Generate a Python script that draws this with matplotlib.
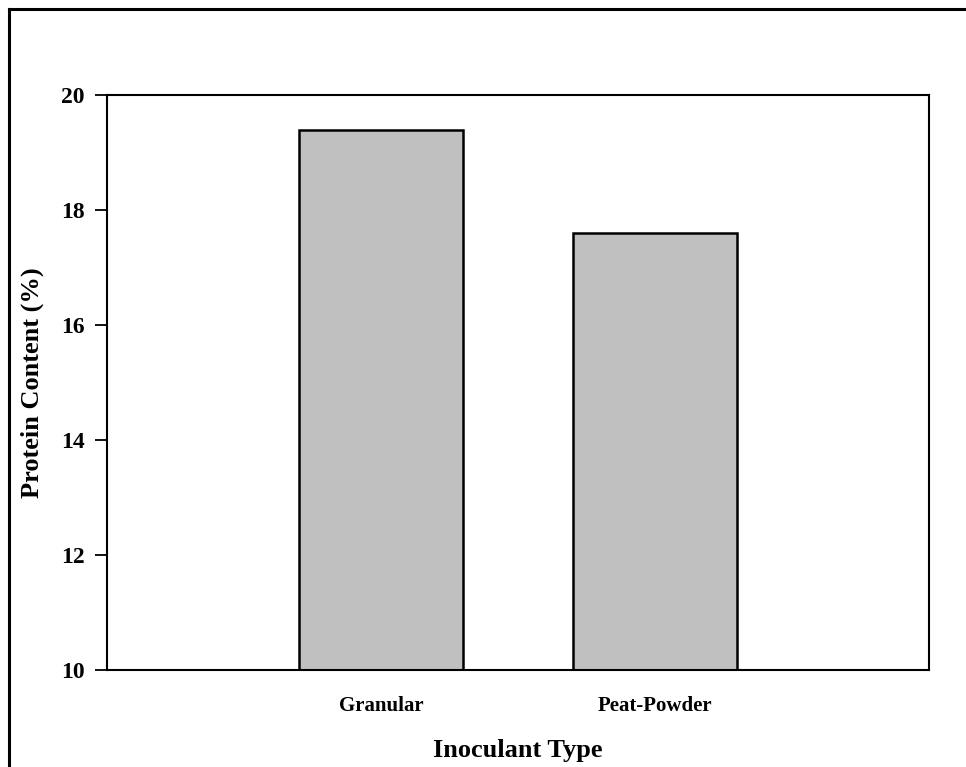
import matplotlib
matplotlib.use("Agg")
import matplotlib.pyplot as plt
from matplotlib.lines import Line2D

categories = ["Granular", "Peat-Powder"]
values = [19.4, 17.6]
yticks = [10, 12, 14, 16, 18, 20]

plt.rcParams['font.family'] = ['Liberation Serif', 'DejaVu Serif']
plt.rcParams['font.weight'] = 'bold'

W, H = 966, 767
fig = plt.figure(figsize=(W / 100, H / 100), dpi=100)
ax = fig.add_axes([107 / W, 1 - 670 / H, (929 - 107) / W, (670 - 95) / H])

x = [1, 2]
ax.bar(x, values, width=0.6, bottom=0, color="#c0c0c0", edgecolor="black", linewidth=1.8, zorder=2)
ax.set_xlim(0, 3)
ax.set_ylim(10, 20)
ax.set_yticks(yticks)
ax.set_yticklabels([str(t) for t in yticks], fontsize=17, fontweight='bold')
ax.set_xticks(x)
ax.set_xticklabels(categories, fontsize=15, fontweight='bold')
ax.tick_params(axis='x', length=0, pad=19)
ax.tick_params(axis='y', length=9, width=1.3, direction='out', pad=7)
for s in ax.spines.values():
    s.set_linewidth(1.5)

ax.set_xlabel("Inoculant Type", fontsize=19, fontweight='bold', labelpad=16)
ax.set_ylabel("Protein Content (%)", fontsize=19, fontweight='bold', labelpad=12)

# outer frame (left and top edges)
fig.add_artist(Line2D([9 / W, 9 / W], [0, 1 - 9 / H], transform=fig.transFigure, color='black', linewidth=2.2))
fig.add_artist(Line2D([9 / W, 1], [1 - 9 / H, 1 - 9 / H], transform=fig.transFigure, color='black', linewidth=2.2))

fig.savefig("out.png", dpi=100, facecolor='white')
